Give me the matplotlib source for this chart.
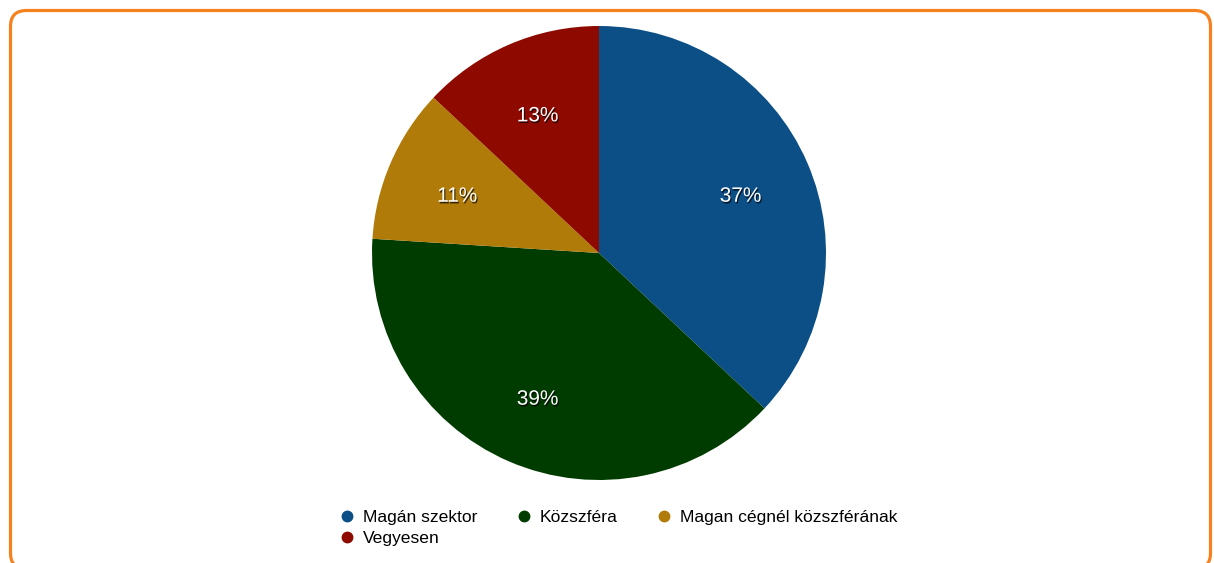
import matplotlib.pyplot as plt
import matplotlib.patheffects as pe
from matplotlib.lines import Line2D
from matplotlib.patches import FancyBboxPatch
from matplotlib.transforms import IdentityTransform

plt.rcParams['font.family'] = ['Liberation Sans', 'DejaVu Sans']

categories = ["Magán szektor", "Közszféra", "Magan cégnél közszférának", "Vegyesen"]
shares = [37, 39, 11, 13]
colors = ["#0B4F86", "#003B00", "#B07B08", "#8E0A00"]

W, H = 1214, 563
fig = plt.figure(figsize=(W / 100, H / 100), dpi=100)

# orange rounded frame, in pixels
frame = FancyBboxPatch((10.5, -6), 1200, 558.5,
                       boxstyle="round,pad=0,rounding_size=16",
                       transform=IdentityTransform(), fill=False,
                       edgecolor="#F5821F", linewidth=2.3)
fig.patches.append(frame)

cx, cy, r = 599, 253, 227
ax = fig.add_axes([(cx - r) / W, (H - cy - r) / H, 2 * r / W, 2 * r / H])
wedges, _, pcts = ax.pie(shares, colors=colors, startangle=90, counterclock=False,
                         autopct=lambda p: f"{p:.0f}%", pctdistance=0.68,
                         wedgeprops=dict(linewidth=0))
ax.set_xlim(-1, 1)
ax.set_ylim(-1, 1)
ax.set_aspect("equal")

for t in pcts:
    x, y = t.get_position()
    t.set_position((x, y - 0.02))
    t.set_color("white")
    t.set_fontsize(15)
    t.set_path_effects([pe.SimplePatchShadow(offset=(0.8, -1.2), shadow_rgbFace="black", alpha=0.7),
                        pe.Normal()])

# legend fills columns first, so reorder to get the row-wise layout
order = [0, 3, 1, 2]
handles = [Line2D([], [], linestyle="none", marker="o", markersize=7.5,
                  markerfacecolor=colors[i], markeredgecolor=colors[i]) for i in order]
labels = [categories[i] for i in order]
fig.legend(handles, labels, loc="upper left", bbox_to_anchor=(341 / W, 1 - 510 / H),
           ncol=3, frameon=False, fontsize=12.6, handlelength=0.7, handletextpad=0.55,
           columnspacing=2.3, labelspacing=0.3, borderpad=0, borderaxespad=0)

fig.savefig("out.png", dpi=100)
